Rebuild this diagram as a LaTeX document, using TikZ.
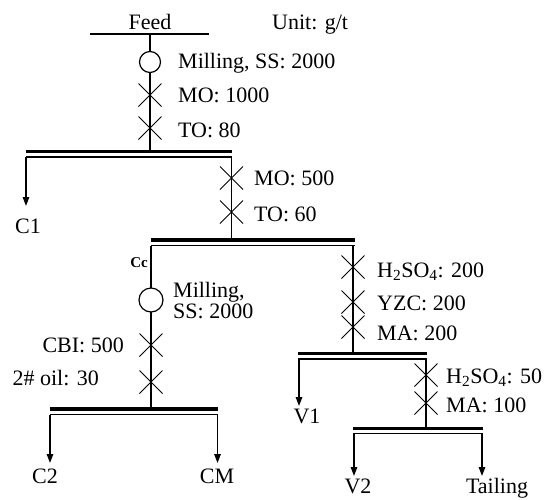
\documentclass[tikz,border=0pt]{standalone}
\usepackage{fontspec}
\setmainfont{Liberation Serif}
\usetikzlibrary{arrows.meta,shapes.misc}
\tikzset{
  lbl/.style={inner sep=0pt, font=\fontsize{22}{25}\selectfont},
  ln/.style={line width=1.4pt},
  barthick/.style={line width=3.6pt},
  barthin/.style={line width=1.1pt},
  arr/.style={line width=1.4pt, -{Triangle[length=9pt,width=6.5pt]}},
  xmark/.style={cross out, draw, line width=1pt, minimum width=22pt, minimum height=22pt, inner sep=0pt},
  mill/.style={circle, draw, line width=1.2pt, fill=white, minimum size=21pt, inner sep=0pt},
}
\begin{document}
\begin{tikzpicture}[x=1pt,y=-1pt]
\useasboundingbox (0,0) rectangle (544,499);
% ---------- feed ----------
\coordinate (feedL) at (90,34);
\coordinate (feedR) at (209,34);
\coordinate (feedC) at (150,34);
\draw[ln] (feedL) -- (feedR);
\node[lbl, anchor=base] (feed) at (150,29) {Feed};
\node[lbl, anchor=base west] (unit) at (272,29) {Unit: g/t};
% bar 1
\coordinate (b1L) at (26,151.5);
\coordinate (b1R) at (232,151.5);
\coordinate (b1Lt) at (26,157);
\coordinate (b1Rt) at (232,157);
\coordinate (b1C) at (150,151.5);
\draw[ln] (feedC) -- (b1C);
\node[mill] (m1) at (150,62) {};
\node[xmark] (x1) at (150,95) {};
\node[xmark] (x2) at (150,128) {};
\node[lbl, anchor=base west] (t1) at (178,68) {Milling, SS: 2000};
\node[lbl, anchor=base west] (t2) at (178,102) {MO: 1000};
\node[lbl, anchor=base west] (t3) at (178,137) {TO: 80};
\draw[barthick] (b1L) -- (b1R);
\draw[barthin] (b1Lt) -- (b1Rt);
% C1
\coordinate (c1e) at (26,206);
\draw[arr] (b1Lt) -- (c1e);
\node[lbl, anchor=base] (c1) at (28,233) {C1};
% bar 2
\coordinate (b2L) at (151,240);
\coordinate (b2R) at (355,240);
\coordinate (b2Lt) at (151,245.5);
\coordinate (b2Rt) at (355,245.5);
\coordinate (b2C) at (231.5,240);
\draw[ln] (b1Rt) ++(-0.5,0) -- (b2C);
\node[xmark] (x3) at (231.5,178) {};
\node[xmark] (x4) at (231.5,212) {};
\node[lbl, anchor=base west] (t4) at (254,185) {MO: 500};
\node[lbl, anchor=base west] (t5) at (254,221) {TO: 60};
\draw[barthick] (b2L) -- (b2R);
\draw[barthin] (b2Lt) -- (b2Rt);
% left branch (Cc)
\coordinate (b3L) at (50,409);
\coordinate (b3R) at (218,409);
\coordinate (b3Lt) at (50,414.5);
\coordinate (b3Rt) at (218,414.5);
\coordinate (b3C) at (151,409);
\draw[ln] (b2Lt) -- (b3C);
\node[inner sep=0pt, anchor=base east, font=\fontsize{15}{17}\selectfont\bfseries] (cc) at (148,267) {Cc};
\node[mill, minimum size=24pt] (m2) at (151,300) {};
\node[lbl, anchor=base west] (t6) at (173,297) {Milling,};
\node[lbl, anchor=base west] (t7) at (173,318) {SS: 2000};
\node[xmark] (x5) at (151,345) {};
\node[xmark] (x6) at (151,382) {};
\node[lbl, anchor=base east] (t8) at (124,352) {CBI: 500};
\node[lbl, anchor=base east] (t9) at (99,385) {2\# oil: 30};
\draw[barthick] (b3L) -- (b3R);
\draw[barthin] (b3Lt) -- (b3Rt);
\coordinate (c2e) at (50,463);
\coordinate (cme) at (217.5,463);
\draw[arr] (b3Lt) -- (c2e);
\draw[arr] (b3Rt) ++(-0.5,0) -- (cme);
\node[lbl, anchor=base] (c2) at (45,483) {C2};
\node[lbl, anchor=base] (cm) at (217,483) {CM};
% right branch
\coordinate (b4L) at (298,353.5);
\coordinate (b4R) at (427,353.5);
\coordinate (b4Lt) at (298,359);
\coordinate (b4Rt) at (427,359);
\coordinate (b4C) at (353,353.5);
\draw[ln] (b2Rt) ++(-2,0) -- (b4C);
\node[xmark] (x7) at (353,267) {};
\node[xmark] (x8) at (353,302) {};
\node[xmark] (x9) at (353,327) {};
\node[lbl, anchor=base west] (t10) at (377,277) {H\textsubscript{2}SO\textsubscript{4}: 200};
\node[lbl, anchor=base west] (t11) at (377,310) {YZC: 200};
\node[lbl, anchor=base west] (t12) at (377,340) {MA: 200};
\draw[barthick] (b4L) -- (b4R);
\draw[barthin] (b4Lt) -- (b4Rt);
\coordinate (v1e) at (299,406);
\draw[arr] (b4Lt) ++(1,0) -- (v1e);
\node[lbl, anchor=base] (v1) at (307,423) {V1};
% bar 5
\coordinate (b5L) at (353,428.5);
\coordinate (b5R) at (483,428.5);
\coordinate (b5Lt) at (353,433.5);
\coordinate (b5Rt) at (483,433.5);
\coordinate (b5C) at (426,428.5);
\draw[ln] (b4Rt) ++(-1,0) -- (b5C);
\node[xmark] (x10) at (426,375) {};
\node[xmark] (x11) at (426,403) {};
\node[lbl, anchor=base west] (t13) at (446,383) {H\textsubscript{2}SO\textsubscript{4}: 50};
\node[lbl, anchor=base west] (t14) at (446,412) {MA: 100};
\draw[barthick] (b5L) -- (b5R);
\draw[barthin] (b5Lt) -- (b5Rt);
\coordinate (v2e) at (354,476);
\coordinate (tle) at (482,476);
\draw[arr] (b5Lt) ++(1,0) -- (v2e);
\draw[arr] (b5Rt) ++(-1,0) -- (tle);
\node[lbl, anchor=base] (v2) at (358,493) {V2};
\node[lbl, anchor=base] (tl) at (497,493) {Tailing};
\end{tikzpicture}
\end{document}
